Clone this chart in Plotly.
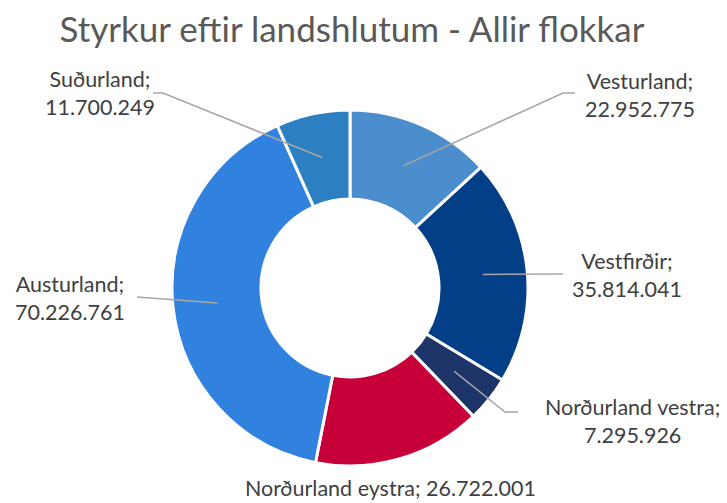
import math
import plotly.graph_objects as go

# ---- data ----
regions = ["Vesturland", "Vestfirðir", "Norðurland vestra", "Norðurland eystra", "Austurland", "Suðurland"]
values = [22952775, 35814041, 7295926, 26722001, 70226761, 11700249]
colors = ["#4c8dcd", "#023f86", "#1d3468", "#c8003a", "#3182de", "#2c80c1"]
title_text = "Styrkur eftir landshlutum - Allir flokkar"

# ---- layout constants (pixels) ----
W, H = 727, 503
CX, CY, R = 350, 288, 178
HOLE = 0.5

def fmt(v):
    return f"{v:,}".replace(",", ".")

def px(x, y):
    return x / W, 1 - y / H

# label placement: (text x, text y, elbow-outer x, elbow-inner x, elbow y, text mode)
label_pos = {
    "Vesturland": (640, 95, 575, 563, 93, "two"),
    "Vestfirðir": (627, 275, 563, 563, 274, "two"),
    "Norðurland vestra": (632, 421, 518, 505, 412, "two"),
    "Norðurland eystra": (390, 488, None, None, None, "one"),
    "Austurland": (70, 298, 137, 137, 297, "two"),
    "Suðurland": (100, 93, 153, 163, 93, "two"),
}

fig = go.Figure(go.Pie(
    labels=regions, values=values, hole=HOLE, sort=False, direction="clockwise",
    rotation=0, marker=dict(colors=colors, line=dict(color="white", width=3)),
    textinfo="none", hoverinfo="label+value", showlegend=False,
    domain=dict(x=[(CX - R) / W, (CX + R) / W], y=[1 - (CY + R) / H, 1 - (CY - R) / H]),
))

total = sum(values)
cum = 0
annotations = []
shapes = []
for name, v in zip(regions, values):
    mid = (cum + v / 2) / total
    cum += v
    th = 2 * math.pi * mid
    rm = R * (1 + HOLE) / 2
    sx, sy = CX + rm * math.sin(th), CY - rm * math.cos(th)
    tx, ty, ex1, ex2, ey, mode = label_pos[name]
    txt = f"{name}; {fmt(v)}" if mode == "one" else f"{name};<br>{fmt(v)}"
    ax, ay = px(tx, ty)
    annotations.append(dict(x=ax, y=ay, xref="paper", yref="paper", text=txt, showarrow=False,
                            xanchor="center", yanchor="middle", align="center",
                            font=dict(family="Lato", size=21.5, color="#404040")))
    if ex1 is not None:
        p1 = px(ex1, ey); p2 = px(ex2, ey); p3 = px(sx, sy)
        path = f"M {p1[0]},{p1[1]} L {p2[0]},{p2[1]} L {p3[0]},{p3[1]}"
        shapes.append(dict(type="path", path=path, xref="paper", yref="paper",
                           line=dict(color="#a6a6a6", width=1.5)))

fig.update_layout(
    width=W, height=H, margin=dict(l=0, r=0, t=0, b=0),
    paper_bgcolor="white", plot_bgcolor="white",
    title=dict(text=title_text, x=352 / W, xanchor="center", y=1 - 30 / H, yanchor="middle",
               font=dict(family="Lato", size=35, color="#595959")),
    annotations=annotations, shapes=shapes,
)
fig.write_html("out.html", config={"displayModeBar": False},
               post_script="document.body.style.margin='0';")
